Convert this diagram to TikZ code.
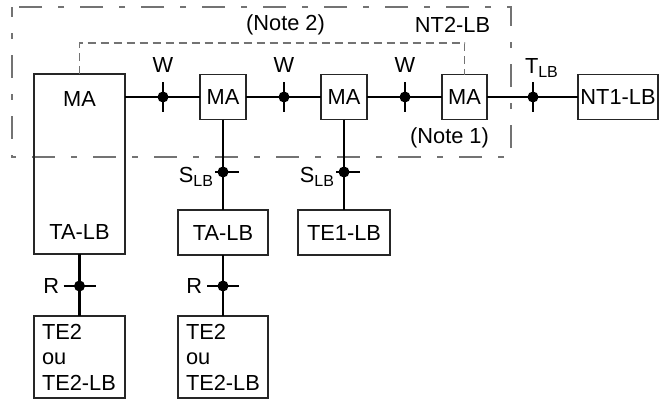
\documentclass[tikz,border=0pt]{standalone}
\usepackage{fontspec}
\setmainfont{Liberation Sans}
\newcommand{\sublb}{\raisebox{-4pt}{\fontsize{16}{16}\selectfont LB}}
\begin{document}
\begin{tikzpicture}[x=1pt,y=-1pt,
  box/.style={draw=black!85, line width=1.1pt, inner sep=0pt, outer sep=0pt},
  conn/.style={line width=2.2pt, black},
  outerbox/.style={draw=black!55, line width=1.5pt, dash pattern=on 23pt off 16pt on 6pt off 16pt, dash phase=13pt},
  innerbox/.style={draw=black!55, line width=1.5pt, dash pattern=on 8pt off 5pt},
  lbl/.style={inner sep=0pt, outer sep=0pt},
  font=\fontsize{21.8}{25.5}\selectfont]
\useasboundingbox (0,0) rectangle (660,399);

% dashed enclosures
\draw[outerbox] (12,7) rectangle (511,157);

% boxes
\node[box, minimum width=91pt, minimum height=180pt] (bigma) at (79.5,164) {};
\node[lbl] (bigmalbl) at (79.5,99) {MA};
\node[lbl] (bigtalbl) at (79.5,232) {TA-LB};
\node[box, minimum width=46pt, minimum height=45pt] (ma1) at (223,97) {MA};
\node[box, minimum width=46pt, minimum height=45pt] (ma2) at (344,97) {MA};
\node[box, minimum width=45pt, minimum height=45pt] (ma3) at (464.5,97) {MA};
\node[box, minimum width=80pt, minimum height=45pt] (nt1) at (618,97) {NT1-LB};
\node[box, minimum width=90pt, minimum height=45pt] (ta2) at (223,232.5) {TA-LB};
\node[box, minimum width=92pt, minimum height=45pt] (te1) at (344,232.5) {TE1-LB};
\node[box, minimum height=82pt, align=left, text width=75pt, inner xsep=8pt] (te2a) at (79.5,357) {TE2\\ou\\TE2-LB};
\node[box, minimum height=82pt, align=left, text width=74pt, inner xsep=8pt] (te2b) at (223,357) {TE2\\ou\\TE2-LB};

\draw[innerbox] (bigma.north) -- (79.5,43) -| (ma3.north);

% junction points
\coordinate (w1) at (163,97);
\coordinate (w2) at (284,97);
\coordinate (w3) at (405,97);
\coordinate (t) at (533,97);
\coordinate (s1) at (223,172);
\coordinate (s2) at (344,172);
\coordinate (r1) at (79.5,286);
\coordinate (r2) at (223,286);

% connectors
\draw[conn] (bigma.east |- w1) -- (ma1.west);
\draw[conn] (ma1.east) -- (ma2.west);
\draw[conn] (ma2.east) -- (ma3.west);
\draw[conn] (ma3.east) -- (nt1.west);
\draw[conn] (ma1.south) -- (ta2.north);
\draw[conn] (ma2.south) -- (te1.north);
\draw[conn] (bigma.south) -- (te2a.north);
\draw[conn] (ta2.south) -- (te2b.north);

% reference point ticks and dots
\foreach \j in {w1,w2,w3,t}{
  \draw[conn] ([yshift=15pt]\j) -- ([yshift=-15pt]\j);
  \fill (\j) circle[radius=5.5pt];
}
\foreach \j in {s1,s2}{
  \draw[conn] ([xshift=-8pt]\j) -- ([xshift=16pt]\j);
  \fill (\j) circle[radius=5.5pt];
}
\foreach \j in {r1,r2}{
  \draw[conn] ([xshift=-16pt]\j) -- ([xshift=16pt]\j);
  \fill (\j) circle[radius=5.5pt];
}

% labels
\node[lbl, anchor=base] (wl1) at (163,72) {W};
\node[lbl, anchor=base] (wl2) at (284,72) {W};
\node[lbl, anchor=base] (wl3) at (405,72) {W};
\node[lbl] (note2) at (285.5,25) {(Note 2)};
\node[lbl] (nt2lbl) at (452.5,24.5) {NT2-LB};
\node[lbl] (note1) at (449.5,138) {(Note 1)};
\node[lbl, anchor=base west] (tl) at (525,73) {T\sublb};
\node[lbl, anchor=base east] (sl1) at (213,182) {S\sublb};
\node[lbl, anchor=base east] (sl2) at (334,182) {S\sublb};
\node[lbl, anchor=base east] (rl1) at (59,293) {R};
\node[lbl, anchor=base east] (rl2) at (202,293) {R};
\end{tikzpicture}
\end{document}
